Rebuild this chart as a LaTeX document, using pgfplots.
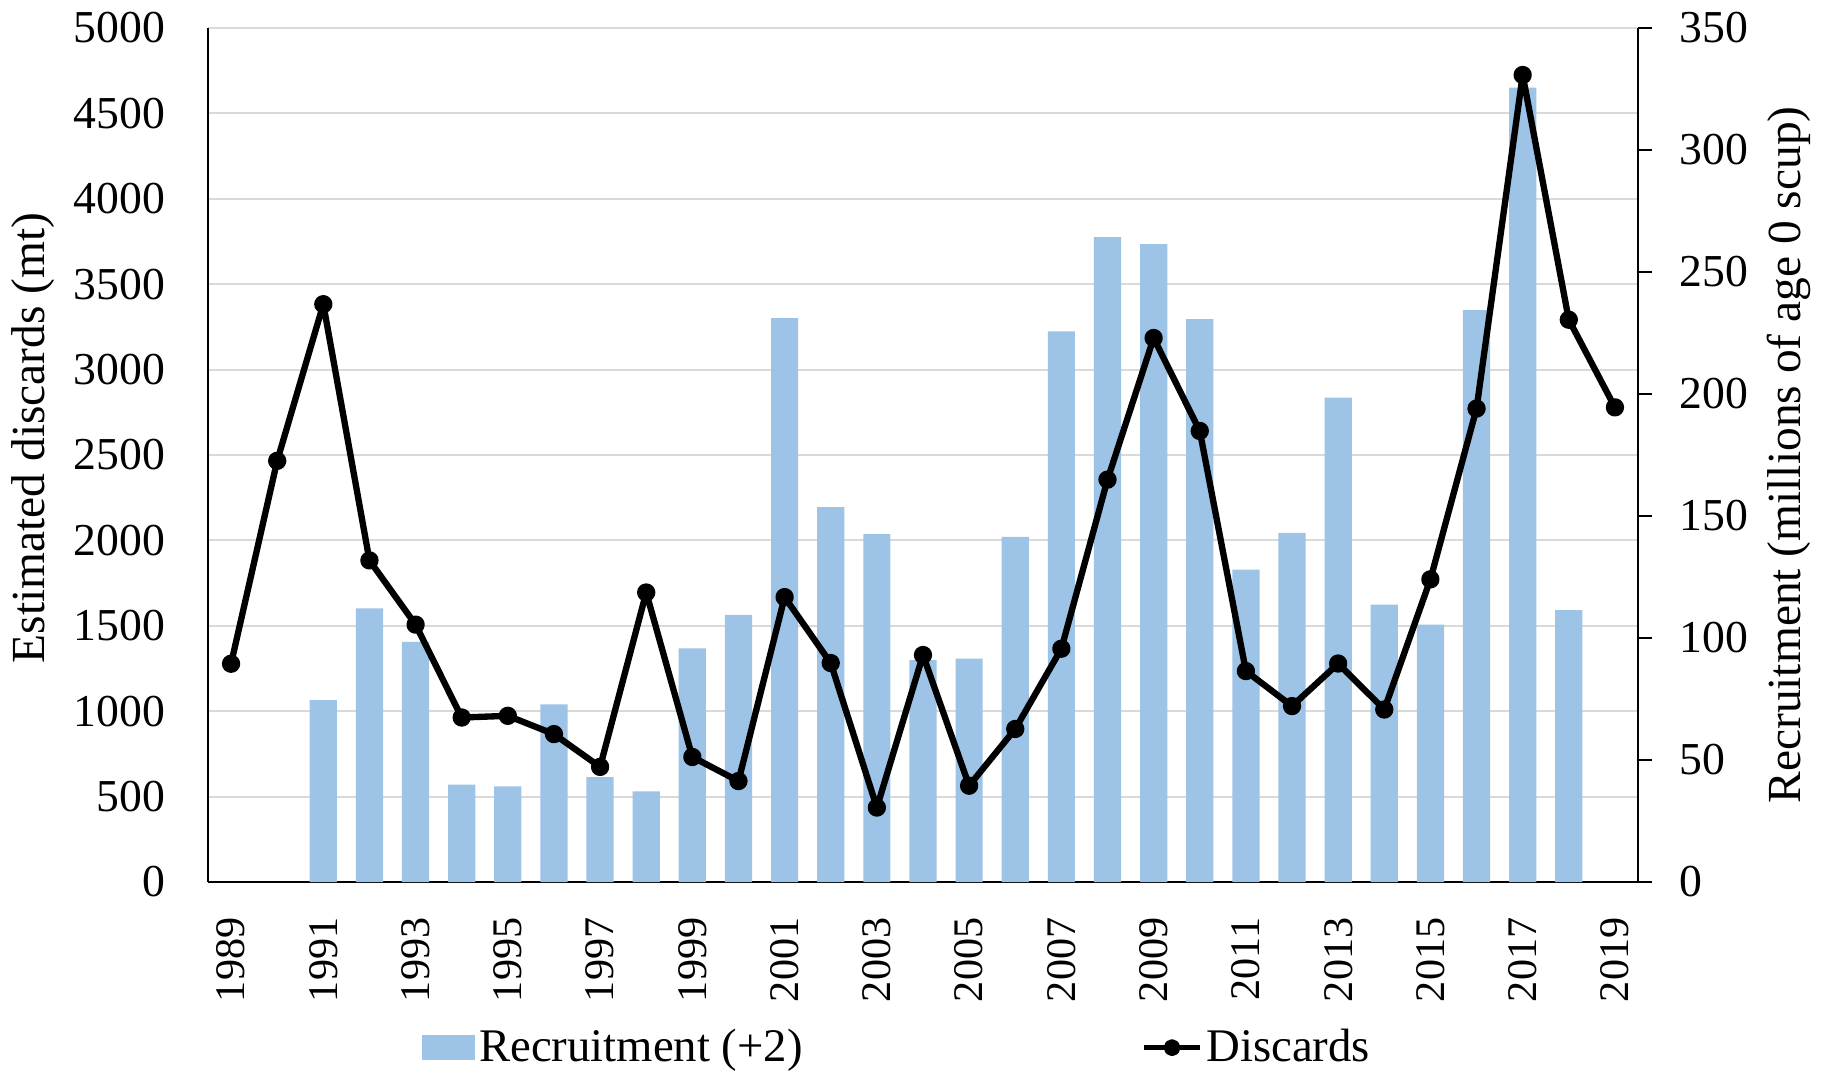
\documentclass[border=0pt]{standalone}
\usepackage{fontspec}
\setmainfont{Liberation Serif}
\usepackage{pgfplots}
\pgfplotsset{compat=1.18}
\definecolor{barblue}{HTML}{9DC3E6}
\definecolor{gridgray}{HTML}{D9D9D9}

\pgfplotstableread{
year rec
1991 74.5
1992 112.1
1993 98.4
1994 39.9
1995 39.2
1996 72.8
1997 43.0
1998 37.1
1999 95.8
2000 109.5
2001 231.1
2002 153.6
2003 142.6
2004 90.9
2005 91.6
2006 141.4
2007 225.7
2008 264.3
2009 261.4
2010 230.7
2011 128.0
2012 143.1
2013 198.5
2014 113.7
2015 105.5
2016 234.4
2017 325.6
2018 111.4
}\rectable

\pgfplotstableread{
year disc
1989 1278
1990 2466
1991 3383
1992 1883
1993 1507
1994 963
1995 973
1996 866
1997 674
1998 1695
1999 732
2000 591
2001 1668
2002 1282
2003 436
2004 1329
2005 564
2006 896
2007 1366
2008 2356
2009 3185
2010 2641
2011 1235
2012 1030
2013 1279
2014 1010
2015 1772
2016 2772
2017 4725
2018 3292
2019 2779
}\disctable

\pgfplotsset{
  base/.style={
    width=143mm, height=85.4mm, scale only axis,
    xmin=1988.5, xmax=2019.5,
    /pgf/number format/1000 sep={},
    /pgf/number format/assume math mode=true,
  }
}

\begin{document}
\begin{tikzpicture}
% grid + left axis + x axis
\begin{axis}[base,
  ymin=0, ymax=5000, ytick={0,500,...,5000},
  axis x line*=bottom, axis y line*=left,
  axis line style={-, line width=0.8pt, black},
  ymajorgrids, grid style={gridgray, line width=0.6pt},
  major tick length=0pt,
  xtick={1989,1991,...,2019},
  yticklabel style={font=\fontsize{13}{15}\selectfont, inner sep=0pt, xshift=-4.2mm, anchor=east},
  xticklabel style={font=\fontsize{12}{14}\selectfont, inner sep=0pt, yshift=-3.5mm, rotate=90, anchor=east},
  ylabel={Estimated discards (mt)},
  ylabel style={font=\fontsize{13.5}{16}\selectfont, at={(axis description cs:-0.1224,0.52)}, anchor=center},
]
\coordinate (SW) at (rel axis cs:0,0);
\end{axis}
% right axis with bars
\begin{axis}[base,
  ymin=0, ymax=350, ytick={0,50,...,350},
  axis x line=none, axis y line*=right,
  axis line style={-, line width=0.8pt, black},
  tick align=outside, major tick length=1.4mm,
  ytick style={line width=0.8pt, black},
  yticklabel style={font=\fontsize{13}{15}\selectfont, inner sep=0pt, anchor=west, xshift=2.7mm},
  ylabel={Recruitment (millions of age 0 scup)},
  ylabel style={font=\fontsize{13.5}{16}\selectfont, at={(axis description cs:1.1056,0.5)}, anchor=center},
  ybar, bar width=0.59,
]
\addplot[fill=barblue, draw=none] table[x=year, y=rec] {\rectable};
\end{axis}
% discards line
\begin{axis}[base,
  ymin=0, ymax=5000, hide axis, clip=false,
  legend columns=2,
  legend cell align=left,
  legend style={at={(axis description cs:0.149,-0.194)}, anchor=west, draw=none, fill=none,
    inner sep=0pt,
    font=\fontsize{13.3}{15}\selectfont,
    nodes={inner xsep=0.4mm, inner ysep=1pt},
    /tikz/every even column/.append style={column sep=33.5mm}},
]
\addlegendimage{legend image code/.code={\fill[barblue] (0mm,-1.2mm) rectangle (5.2mm,1.2mm);}}
\addlegendentry{Recruitment (+2)}
\addplot[black, line width=1.8pt, line join=round, mark=*, mark size=1.7pt,
  legend image code/.code={\draw[black, line width=1.3pt] (0mm,0mm) -- (5.6mm,0mm); \fill[black] (2.8mm,0mm) circle (1.5pt);}]
  table[x=year, y=disc] {\disctable};
\addlegendentry{Discards}
\end{axis}
\pgfresetboundingbox
\path[use as bounding box] (SW) ++(-20.8mm,-19.1mm) rectangle ++(182.7mm,107.3mm);
\end{tikzpicture}
\end{document}
